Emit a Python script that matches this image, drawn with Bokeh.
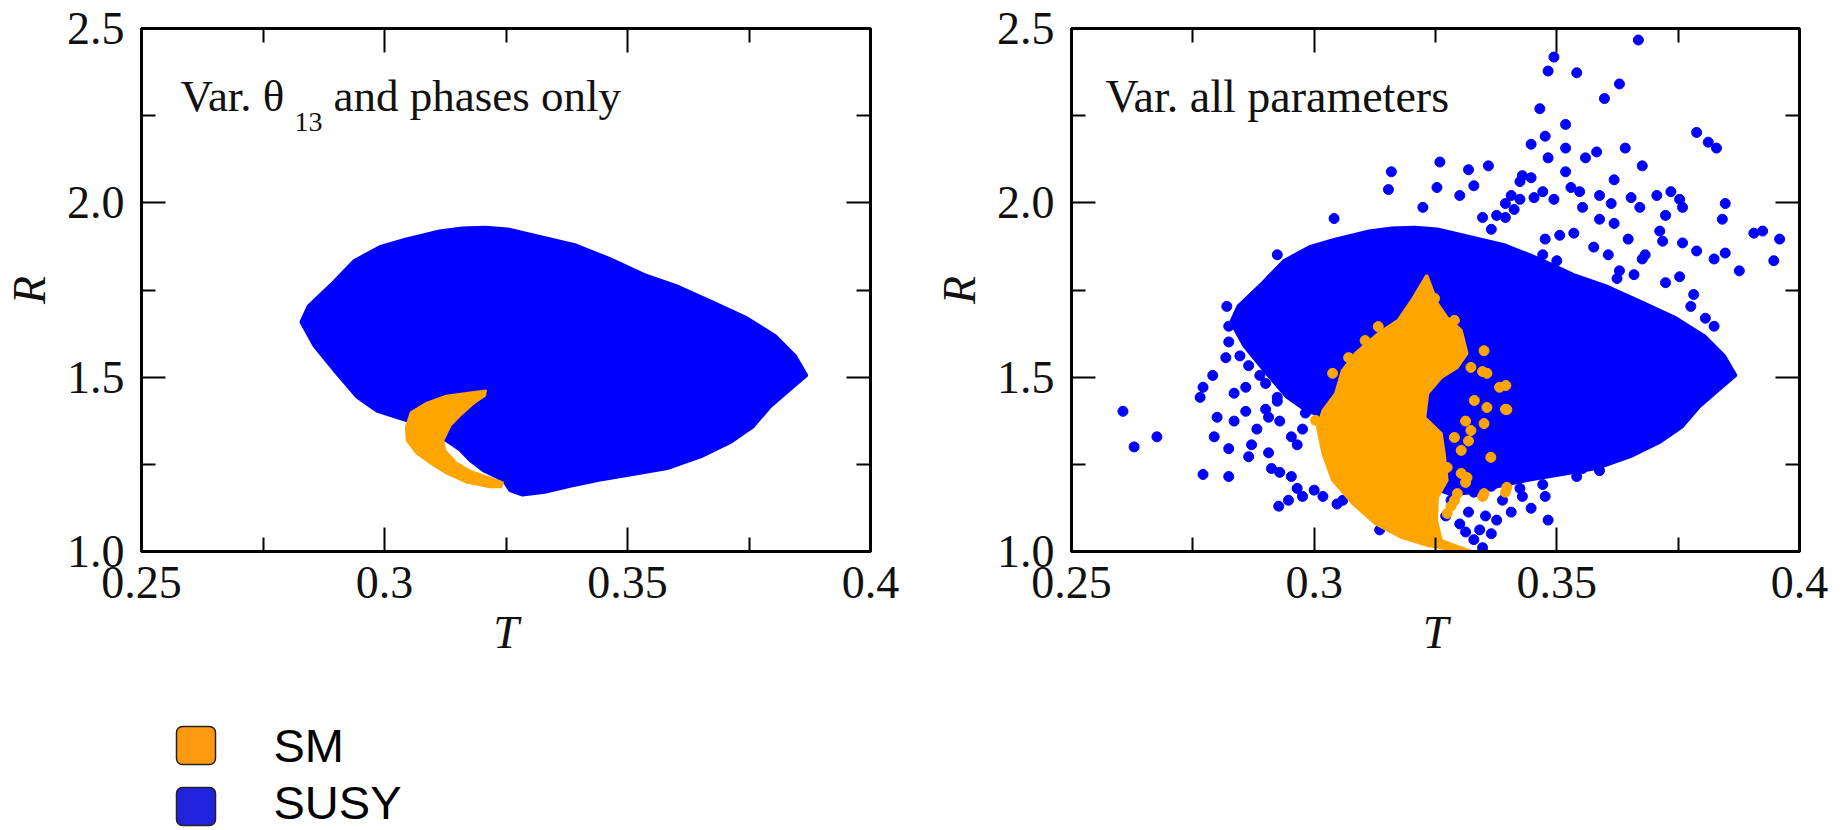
from bokeh.plotting import figure
from bokeh.models import FixedTicker, LinearAxis, Range1d, BoxAnnotation
from bokeh.layouts import row, column
from bokeh.embed import file_html
from bokeh.resources import INLINE
from bokeh.core.properties import value

# ---------------- data ----------------
x_ticks = [0.25, 0.3, 0.35, 0.4]
x_tick_labels = ["0.25", "0.3", "0.35", "0.4"]
x_minor = [0.275, 0.325, 0.375]
y_ticks = [1.0, 1.5, 2.0, 2.5]
y_tick_labels = ["1.0", "1.5", "2.0", "2.5"]
y_minor = [1.25, 1.75, 2.25]

# SUSY: densely filled region (outline)
susy_region_T = [0.2828, 0.2843, 0.2890, 0.2937, 0.2990, 0.3043, 0.3113, 0.3160, 0.3207, 0.3254,
                 0.3324, 0.3394, 0.3464, 0.3535, 0.3605, 0.3676, 0.3746, 0.3805, 0.3845, 0.3869,
                 0.3840, 0.3793, 0.3758, 0.3711, 0.3652, 0.3582, 0.3511, 0.3441, 0.3382, 0.3330,
                 0.3284, 0.3258, 0.3244, 0.3203, 0.3176, 0.3156, 0.3136, 0.3090, 0.3040, 0.2984,
                 0.2943, 0.2902, 0.2855]
susy_region_R = [1.658, 1.704, 1.766, 1.834, 1.874, 1.896, 1.919, 1.928, 1.930, 1.925,
                 1.902, 1.879, 1.840, 1.794, 1.760, 1.715, 1.670, 1.618, 1.562, 1.505,
                 1.471, 1.414, 1.357, 1.312, 1.272, 1.238, 1.221, 1.204, 1.187, 1.170,
                 1.162, 1.175, 1.204, 1.232, 1.261, 1.290, 1.310, 1.350, 1.378, 1.403,
                 1.443, 1.510, 1.590]

# SM, panel 1: crescent region
sm_crescent_T = [0.3209, 0.3176, 0.3127, 0.3087, 0.3054, 0.3044, 0.3046, 0.3066, 0.3095, 0.3127,
                 0.3168, 0.3217, 0.3240, 0.3244, 0.3217, 0.3176, 0.3148, 0.3125, 0.3121, 0.3136,
                 0.3156, 0.3183, 0.3207]
sm_crescent_R = [1.462, 1.456, 1.447, 1.427, 1.399, 1.356, 1.318, 1.281, 1.252, 1.224,
                 1.198, 1.184, 1.184, 1.198, 1.212, 1.232, 1.255, 1.290, 1.318, 1.361,
                 1.390, 1.424, 1.447]

# SM, panel 2: filled region
sm_region_T = [0.3232, 0.3201, 0.3173, 0.3132, 0.3085, 0.3058, 0.3044, 0.3018, 0.3007, 0.3018,
               0.3038, 0.3079, 0.3126, 0.3181, 0.3234, 0.3289, 0.3323, 0.3262, 0.3252, 0.3254,
               0.3274, 0.3268, 0.3262, 0.3228, 0.3234, 0.3262, 0.3295, 0.3315, 0.3303, 0.3274,
               0.3254]
sm_region_R = [1.792, 1.720, 1.663, 1.625, 1.568, 1.519, 1.453, 1.404, 1.356, 1.281,
               1.204, 1.138, 1.080, 1.040, 1.017, 1.004, 1.000, 1.032, 1.089, 1.155,
               1.204, 1.281, 1.338, 1.384, 1.453, 1.499, 1.528, 1.568, 1.634, 1.671,
               1.711]

# SM, panel 2: isolated points
sm_scatter_T = [0.3132, 0.3071, 0.3350, 0.3395, 0.3397, 0.3364, 0.3315, 0.3350, 0.3397, 0.3323,
                0.3356, 0.3330, 0.3356, 0.3350, 0.3323, 0.3289, 0.3303, 0.3274, 0.3303, 0.3289,
                0.3274, 0.3295, 0.3003, 0.3038, 0.3105, 0.3221, 0.3248, 0.3289, 0.3295, 0.3347,
                0.3382, 0.3394, 0.3312, 0.3318, 0.3312, 0.3347, 0.3394, 0.3282]
sm_scatter_R = [1.645, 1.556, 1.576, 1.476, 1.407, 1.270, 1.212, 1.166, 1.184, 1.528,
                1.511, 1.433, 1.413, 1.367, 1.347, 1.327, 1.290, 1.241, 1.224, 1.146,
                1.109, 1.166, 1.376, 1.511, 1.605, 1.734, 1.726, 1.663, 1.585, 1.516,
                1.471, 1.408, 1.374, 1.317, 1.198, 1.158, 1.170, 1.130]

# SUSY, panel 2: isolated points
susy_scatter_T = [
    0.3668, 0.3482, 0.3541, 0.3494, 0.3629, 0.3598, 0.3465, 0.3518, 0.3447, 0.3476,
    0.3482, 0.3518, 0.3559, 0.3582, 0.3641, 0.3618, 0.3676, 0.3788, 0.3812, 0.3829,
    0.3259, 0.3318, 0.3359, 0.3159, 0.3153, 0.3253, 0.3300, 0.3329, 0.3424, 0.3447,
    0.3471, 0.3494, 0.3518, 0.3529, 0.3547, 0.3588, 0.3612, 0.3653, 0.3671, 0.3706,
    0.3735, 0.3753, 0.3759, 0.3724, 0.3847, 0.3841, 0.3906, 0.3924, 0.3959, 0.3947,
    0.3876, 0.3847, 0.3824, 0.3788, 0.3759, 0.3718, 0.3712, 0.3682, 0.3647, 0.3618,
    0.3588, 0.3553, 0.3535, 0.3506, 0.3476, 0.3471, 0.3500, 0.3576, 0.3606, 0.3629,
    0.3659, 0.3676, 0.3724, 0.3753, 0.3782, 0.3776, 0.3806, 0.3824, 0.3624, 0.3394,
    0.3376, 0.3347, 0.3412, 0.3224, 0.3041, 0.2924, 0.3365, 0.3394, 0.3406, 0.3424,
    0.3453, 0.3429,
    0.2606, 0.2629, 0.2676, 0.2771, 0.2765, 0.2791, 0.2800, 0.2794, 0.2835, 0.2859,
    0.2835, 0.2859, 0.2824, 0.2871, 0.2882, 0.2900, 0.2924, 0.2929, 0.2906, 0.2953,
    0.2965, 0.2976, 0.2982, 0.2771, 0.2824, 0.2865, 0.2912, 0.2929, 0.2953, 0.2947,
    0.2965, 0.2927, 0.2976, 0.3000, 0.3018, 0.3047, 0.3059, 0.3135, 0.2820, 0.2824,
    0.2824, 0.2818, 0.2847, 0.2865, 0.2888, 0.2900, 0.2924, 0.2906,
    0.3306, 0.3329, 0.3365, 0.3388, 0.3406, 0.3376, 0.3353, 0.3318, 0.3300, 0.3341,
    0.3365, 0.3329, 0.3347, 0.3312, 0.3429, 0.3447, 0.3476, 0.3482, 0.3424, 0.3471,
    0.3541, 0.3553, 0.3588, 0.3271, 0.3282]
susy_scatter_R = [
    2.467, 2.378, 2.373, 2.418, 2.341, 2.299, 2.270, 2.225, 2.168, 2.191,
    2.129, 2.157, 2.129, 2.146, 2.157, 2.066, 2.106, 2.202, 2.174, 2.157,
    2.117, 2.095, 2.106, 2.089, 2.038, 2.044, 2.021, 2.049, 2.061, 2.072,
    2.032, 2.010, 2.089, 2.044, 2.032, 2.021, 1.998, 2.015, 1.987, 2.021,
    2.032, 2.010, 1.987, 1.964, 1.998, 1.953, 1.913, 1.919, 1.896, 1.834,
    1.805, 1.856, 1.839, 1.862, 1.885, 1.890, 1.919, 1.851, 1.896, 1.941,
    1.953, 1.987, 1.913, 1.907, 1.896, 1.851, 1.834, 1.873, 1.851, 1.805,
    1.794, 1.839, 1.771, 1.788, 1.737, 1.703, 1.669, 1.646, 1.783, 1.998,
    1.964, 1.958, 1.981, 1.987, 1.955, 1.851, 1.924, 1.958, 2.021, 2.010,
    2.015, 2.078,
    1.402, 1.300, 1.329, 1.471, 1.442, 1.505, 1.385, 1.329, 1.454, 1.471,
    1.374, 1.402, 1.295, 1.306, 1.351, 1.408, 1.431, 1.374, 1.283, 1.329,
    1.306, 1.351, 1.397, 1.221, 1.215, 1.272, 1.238, 1.227, 1.215, 1.147,
    1.181, 1.130, 1.158, 1.176, 1.158, 1.136, 1.147, 1.062, 1.703, 1.646,
    1.601, 1.556, 1.561, 1.533, 1.505, 1.482, 1.442, 1.385,
    1.192, 1.170, 1.187, 1.147, 1.113, 1.090, 1.102, 1.113, 1.079, 1.062,
    1.051, 1.034, 1.011, 1.056, 1.158, 1.124, 1.158, 1.090, 1.181, 1.192,
    1.215, 1.238, 1.232, 1.102, 1.147]

legend_labels = ["SM", "SUSY"]
panel_titles = ["Var. \u03b8", "13", "and phases only", "Var. all parameters"]

# ---------------- style ----------------
SERIF = "Liberation Serif"
SANS = "Liberation Sans"
BLUE = "#0000ff"
ORANGE = "#ffa500"
LEG_ORANGE = "#ff9912"
LEG_BLUE = "#2222dd"
INK = "#111111"


def style_axis(ax, ticks, minor, labels, show):
    ax.ticker = FixedTicker(ticks=ticks, minor_ticks=minor)
    ax.major_label_overrides = {t: l for t, l in zip(ticks, labels)}
    ax.major_tick_in = 24
    ax.major_tick_out = 0
    ax.minor_tick_in = 14
    ax.minor_tick_out = 0
    ax.major_tick_line_width = 2
    ax.minor_tick_line_width = 2
    ax.major_tick_line_color = "black"
    ax.minor_tick_line_color = "black"
    ax.axis_line_width = 3
    ax.axis_line_color = "black"
    if show:
        ax.major_label_text_font = SERIF
        ax.major_label_text_font_size = "46px"
        ax.major_label_text_color = INK
        ax.axis_label_text_font = SERIF
        ax.axis_label_text_font_size = "46px"
        ax.axis_label_text_font_style = "italic"
        ax.axis_label_text_color = INK
    else:
        ax.major_label_text_color = None
        ax.major_label_text_font_size = "0px"


TOP_H = 675


def make_panel(width, border_left, border_right):
    p = figure(width=width, height=TOP_H, x_range=Range1d(0.25, 0.4), y_range=Range1d(1.0, 2.5),
               output_backend="svg", toolbar_location=None,
               min_border_left=border_left, min_border_right=border_right,
               min_border_top=28, min_border_bottom=TOP_H - 28 - 523,
               x_axis_label="T", y_axis_label="R")
    p.grid.visible = False
    p.outline_line_color = "black"
    p.outline_line_width = 3
    p.background_fill_color = "white"
    p.border_fill_color = "white"
    xa = p.xaxis[0]
    ya = p.yaxis[0]
    style_axis(xa, x_ticks, x_minor, x_tick_labels, True)
    style_axis(ya, y_ticks, y_minor, y_tick_labels, True)
    xa.major_label_standoff = 15
    xa.axis_label_standoff = 6
    ya.major_label_standoff = 17
    ya.axis_label_standoff = 9
    top = LinearAxis()
    style_axis(top, x_ticks, x_minor, x_tick_labels, False)
    right = LinearAxis()
    style_axis(right, y_ticks, y_minor, y_tick_labels, False)
    p.add_layout(top, "above")
    p.add_layout(right, "right")
    return p


def note(p, x, y, txt, size):
    p.text(x=[x], y=[y], text=[txt], text_font=value(SERIF), text_font_size=size,
           text_baseline="alphabetic", text_align="left", text_color=INK)


# ---- panel 1 ----
p1 = make_panel(930, 136, 60)
p1.patch(susy_region_T, susy_region_R, fill_color=BLUE, line_color=BLUE, line_width=3)
p1.patch(sm_crescent_T, sm_crescent_R, fill_color=ORANGE, line_color=ORANGE, line_width=2)
note(p1, 0.2580, 2.306, panel_titles[0], "45px")
note(p1, 0.2815, 2.232, panel_titles[1], "28px")
note(p1, 0.2895, 2.306, panel_titles[2], "45px")

# ---- panel 2 ----
p2 = make_panel(899, 133, 30)
p2.patch(susy_region_T, susy_region_R, fill_color=BLUE, line_color=BLUE, line_width=3)
p2.scatter(susy_scatter_T, susy_scatter_R, size=10, marker="circle", fill_color=BLUE, line_color=BLUE)
p2.patch(sm_region_T, sm_region_R, fill_color=ORANGE, line_color=ORANGE, line_width=3)
p2.scatter(sm_scatter_T, sm_scatter_R, size=10, marker="circle", fill_color=ORANGE, line_color=ORANGE)
note(p2, 0.2570, 2.306, panel_titles[3], "46px")

# ---- legend ----
LH = 830 - TOP_H
leg = figure(width=420, height=LH, x_range=Range1d(0, 420), y_range=Range1d(LH, 0),
             output_backend="svg", toolbar_location=None, min_border=0)
leg.axis.visible = False
leg.grid.visible = False
leg.outline_line_color = None
leg.background_fill_color = "white"
leg.border_fill_color = "white"
leg_colors = [LEG_ORANGE, LEG_BLUE]
leg_tops = [51, 112]
for c, t in zip(leg_colors, leg_tops):
    leg.add_layout(BoxAnnotation(left=176, right=215, top=t, bottom=t + 38,
                                 fill_color=c, fill_alpha=1.0, line_color="#222222",
                                 line_alpha=1.0, line_width=1.5, border_radius=6))
leg.text(x=[273, 273], y=[70, 127], text=legend_labels, text_font=value(SANS),
         text_font_size="47px", text_baseline="alphabetic", text_align="left", text_color="black")

layout = column(row(p1, p2), leg)
open("out.html", "w").write(file_html(layout, INLINE))
